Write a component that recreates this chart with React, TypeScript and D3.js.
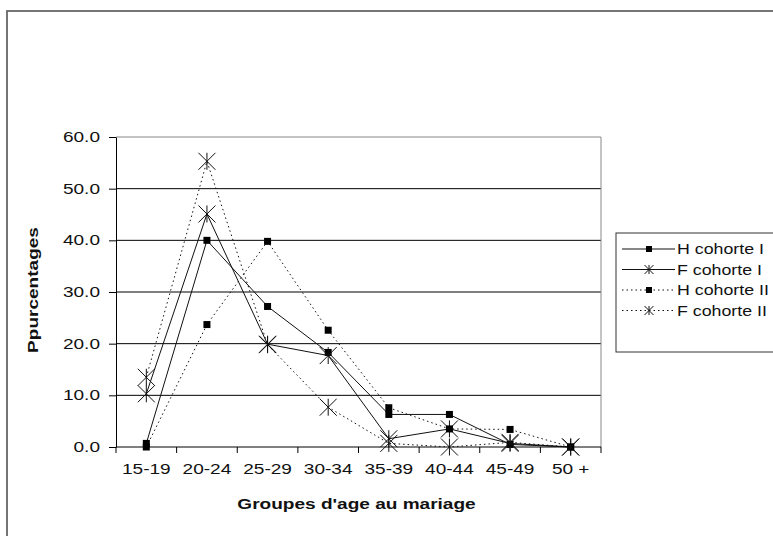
import * as d3 from "d3";
import { useRef, useEffect } from "react";

const width = 773;
const height = 536;
const marginTop = 137;
const marginBottom = 89; // 0.0 line at y=447
const marginLeft = 116;
const plotRight = 601;

const categories = ["15-19", "20-24", "25-29", "30-34", "35-39", "40-44", "45-49", "50 +"];
const hCohorteI = [0.7, 40.0, 27.2, 18.3, 6.3, 6.3, 0.5, 0];
const fCohorteI = [10.3, 45.1, 19.9, 17.7, 1.6, 3.5, 0.7, 0];
const hCohorteII = [0, 23.7, 39.8, 22.6, 7.6, 3.5, 3.4, 0];
const fCohorteII = [13.5, 55.3, 19.8, 7.7, 0.7, 0, 0.9, 0];
const yTicks = [0, 10, 20, 30, 40, 50, 60];

const seriesNames = ["H cohorte I", "F cohorte I", "H cohorte II", "F cohorte II"];
const seriesValues = [hCohorteI, fCohorteI, hCohorteII, fCohorteII];
const seriesMarker = ["square", "star", "square", "star"];
const seriesDotted = [false, false, true, true];

const font = "Arial, 'Liberation Sans', sans-serif";
const stretch = 1.36;

const starPath = (r: number) =>
  `M${-r},${-r}L${r},${r}M${-r},${r}L${r},${-r}M0,${-r}L0,${r}`;

const Marker = ({ kind, x, y, big }: { kind: string; x: number; y: number; big: boolean }) =>
  kind === "square" ? (
    <rect x={x - (big ? 3.5 : 3)} y={y - (big ? 3.5 : 3)} width={big ? 7 : 6} height={big ? 7 : 6} fill="#000" />
  ) : (
    <path d={starPath(big ? 8.5 : 4.5)} transform={`translate(${x},${y})`} stroke="#111" strokeWidth={1} fill="none" />
  );

const App = () => {
  const gx = useRef<SVGGElement>(null);
  const gy = useRef<SVGGElement>(null);

  const x = d3
    .scaleBand<string>()
    .domain(categories)
    .range([marginLeft, plotRight])
    .padding(0);

  const y = d3
    .scaleLinear()
    .domain([0, 60])
    .range([height - marginBottom, marginTop]);

  useEffect(() => {
    if (gx.current) {
      const g = d3.select(gx.current);
      g.selectAll("*").remove();
      g.call(d3.axisBottom(x).tickSize(0).tickPadding(0));
      g.select(".domain").remove();
      g.selectAll(".tick text")
        .attr("y", 0)
        .attr("dy", 0)
        .attr("fill", "#111")
        .attr("font-size", 14)
        .attr("font-family", font)
        .attr("transform", `translate(0,27) scale(${stretch},1)`);
      // boundary ticks between categories
      g.selectAll("line.bt")
        .data(d3.range(categories.length + 1))
        .join("line")
        .attr("class", "bt")
        .attr("x1", (i) => marginLeft + i * x.bandwidth())
        .attr("x2", (i) => marginLeft + i * x.bandwidth())
        .attr("y1", 0)
        .attr("y2", 6)
        .attr("stroke", "#000");
    }
    if (gy.current) {
      const g = d3.select(gy.current);
      g.selectAll("*").remove();
      g.call(
        d3
          .axisLeft(y)
          .tickValues(yTicks)
          .tickFormat(d3.format(".1f"))
          .tickSize(7)
          .tickSizeOuter(0)
      );
      g.select(".domain").attr("stroke", "#000");
      g.selectAll(".tick line").attr("stroke", "#000");
      g.selectAll(".tick text")
        .attr("x", 0)
        .attr("fill", "#111")
        .attr("font-size", 14)
        .attr("font-family", font)
        .attr("transform", `translate(-16,0) scale(${stretch},1)`);
    }
  }, []);

  const line = d3
    .line<number>()
    .x((_, i) => (x(categories[i]) as number) + x.bandwidth() / 2)
    .y((d) => y(d));

  const legendX = 616;
  const legendY = 233;

  return (
    <svg
      width={width}
      height={height}
      viewBox={`0 0 ${width} ${height}`}
      style={{ position: "absolute", left: 0, top: 0, background: "#fff" }}
    >
      {/* outer chart border */}
      <rect x={7} y={11} width={800} height={600} fill="none" stroke="#666" strokeWidth={1.8} />

      {/* gridlines */}
      {yTicks.slice(1, -1).map((t) => (
        <line key={t} x1={marginLeft} x2={plotRight} y1={y(t)} y2={y(t)} stroke="#000" />
      ))}
      {/* plot area border (top & right) */}
      <path
        d={`M${marginLeft},${y(60)}H${plotRight}V${y(0)}`}
        fill="none"
        stroke="#888"
      />
      <line x1={marginLeft} x2={plotRight} y1={y(0)} y2={y(0)} stroke="#000" />

      {seriesValues.map((vals, s) => (
        <g key={seriesNames[s]}>
          <path
            d={line(vals) as string}
            fill="none"
            stroke="#111"
            strokeWidth={1}
            strokeDasharray={seriesDotted[s] ? "1.5,3" : undefined}
          />
          {vals.map((v, i) => (
            <Marker
              key={i}
              kind={seriesMarker[s]}
              x={(x(categories[i]) as number) + x.bandwidth() / 2}
              y={y(v)}
              big={true}
            />
          ))}
        </g>
      ))}

      <g ref={gx} transform={`translate(0, ${y(0)})`} />
      <g ref={gy} transform={`translate(${marginLeft}, 0)`} />

      <text
        transform={`translate(38,${(y(0) + y(60)) / 2 - 2}) rotate(-90) scale(${stretch},1)`}
        textAnchor="middle"
        fontFamily={font}
        fontWeight="bold"
        fontSize={14}
        fill="#111"
      >
        Ppurcentages
      </text>
      <text
        transform={`translate(${(marginLeft + plotRight) / 2 - 2},509) scale(${stretch},1)`}
        textAnchor="middle"
        fontFamily={font}
        fontWeight="bold"
        fontSize={14}
        fill="#111"
      >
        Groupes d'age au mariage
      </text>

      {/* legend */}
      <rect x={legendX} y={legendY} width={200} height={119} fill="#fff" stroke="#333" />
      {seriesNames.map((name, s) => {
        const cy = legendY + 16 + s * 20.5;
        return (
          <g key={name}>
            <line
              x1={legendX + 6}
              x2={legendX + 59}
              y1={cy}
              y2={cy}
              stroke="#111"
              strokeDasharray={seriesDotted[s] ? "1.5,3" : undefined}
            />
            <Marker kind={seriesMarker[s]} x={legendX + 33} y={cy} big={false} />
            <text
              transform={`translate(${legendX + 61},${cy + 5}) scale(1.27,1)`}
              fontFamily={font}
              fontSize={14}
              fill="#111"
            >
              {name}
            </text>
          </g>
        );
      })}
    </svg>
  );
};

export default App;
